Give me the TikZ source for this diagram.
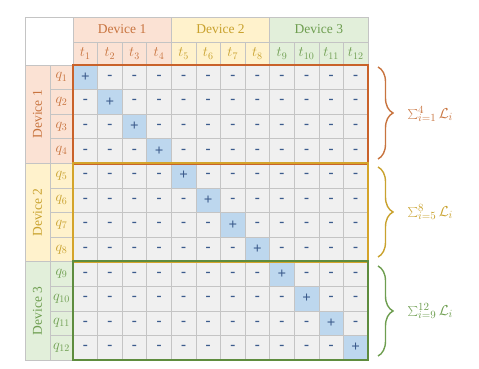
\documentclass[tikz,border=0pt]{standalone}
\usepackage{fontspec}
\setmainfont{Liberation Serif}
\usetikzlibrary{decorations.pathreplacing}
\definecolor{gridc}{HTML}{C4C4C4}
\definecolor{cellc}{HTML}{F0F0F0}
\definecolor{diagc}{HTML}{BDD7EE}
\definecolor{signc}{HTML}{3B5B8C}
\definecolor{fa}{HTML}{FBE2D4}
\definecolor{ta}{HTML}{C8743F}
\definecolor{ba}{HTML}{C9622A}
\definecolor{fb}{HTML}{FFF2CC}
\definecolor{tb}{HTML}{C9A22E}
\definecolor{bb}{HTML}{D4A42A}
\definecolor{fc}{HTML}{E2EFDA}
\definecolor{tc}{HTML}{6E9E50}
\definecolor{bc}{HTML}{5E8C3E}
\tikzset{
  cell/.style={draw=gridc, line width=0.6pt, fill=cellc, minimum width=24.583pt, minimum height=24.583pt, inner sep=0pt, text=signc},
  hdr/.style={draw=gridc, line width=0.6pt, inner sep=0pt, font=\fontsize{13.5}{15}\selectfont},
  lbl/.style={draw=gridc, line width=0.6pt, inner sep=0pt, font=\fontsize{14}{15}\selectfont},
  grpbox/.style={line width=1.8pt},
  sumbrace/.style={decorate, decoration={brace, amplitude=15pt}, line width=1.4pt},
}
\begin{document}
\begin{tikzpicture}[x=1pt,y=-1pt]
\useasboundingbox (0,0) rectangle (479,369);
% top-left corner
\node[draw=gridc, line width=0.6pt, fill=white, minimum width=48pt, minimum height=48pt, inner sep=0pt] (corner) at (49,41) {};
% cells
\foreach \r in {1,...,12}{
  \foreach \c in {1,...,12}{
    \pgfmathsetmacro\cx{73+(\c-0.5)*24.583}
    \pgfmathsetmacro\cy{65+(\r-0.5)*24.583}
    \ifnum\r=\c
      \node[cell, fill=diagc] (c-\r-\c) at (\cx,\cy) {\fontsize{15}{15}\selectfont\textbf{+}};
    \else
      \node[cell] (c-\r-\c) at (\cx,\cy) {\fontsize{15}{15}\selectfont\textbf{-}};
    \fi
  }
}
% headers
\foreach \g/\f/\t in {1/fa/ta, 2/fb/tb, 3/fc/tc}{
  \pgfmathsetmacro\gx{73+(\g-0.5)*98.333}
  \node[hdr, fill=\f, text=\t, minimum width=98.333pt, minimum height=25pt] (dh-\g) at (\gx,29.5) {Device \g};
  \pgfmathsetmacro\gy{65+(\g-0.5)*98.333}
  \node[hdr, fill=\f, text=\t, minimum width=98.333pt, minimum height=25pt, rotate=90] (dv-\g) at (37.5,\gy) {Device \g};
  \foreach \k in {1,...,4}{
    \pgfmathtruncatemacro\n{(\g-1)*4+\k}
    \pgfmathsetmacro\tx{73+(\n-0.5)*24.583}
    \node[lbl, fill=\f, text=\t, minimum width=24.583pt, minimum height=23pt] (t-\n) at (\tx,53.5) {$t_{\n}$};
    \node[lbl, fill=\f, text=\t, minimum width=23pt, minimum height=24.583pt] (q-\n) at (61.5,\tx-8) {$q_{\n}$};
  }
}
% group boxes
\draw[grpbox, ba] (c-1-1.north west) rectangle (c-4-12.south east);
\draw[grpbox, bb] (c-5-1.north west) rectangle (c-8-12.south east);
\draw[grpbox, bc] (c-9-1.north west) rectangle (c-12-12.south east);
% braces
\coordinate (b1t) at (378,67); \coordinate (b1b) at (378,159);
\coordinate (b2t) at (378,167); \coordinate (b2b) at (378,257);
\coordinate (b3t) at (378,266); \coordinate (b3b) at (378,356);
\draw[sumbrace, ta] (b1t) -- (b1b);
\draw[sumbrace, tb] (b2t) -- (b2b);
\draw[sumbrace, tc] (b3t) -- (b3b);
\node[anchor=west, text=ta, font=\fontsize{15}{17}\selectfont] (s1) at (404,114) {$\sum_{i=1}^{4}\mathcal{L}_i$};
\node[anchor=west, text=tb, font=\fontsize{15}{17}\selectfont] (s2) at (404,212) {$\sum_{i=5}^{8}\mathcal{L}_i$};
\node[anchor=west, text=tc, font=\fontsize{15}{17}\selectfont] (s3) at (404,311) {$\sum_{i=9}^{12}\mathcal{L}_i$};
\end{tikzpicture}
\end{document}
